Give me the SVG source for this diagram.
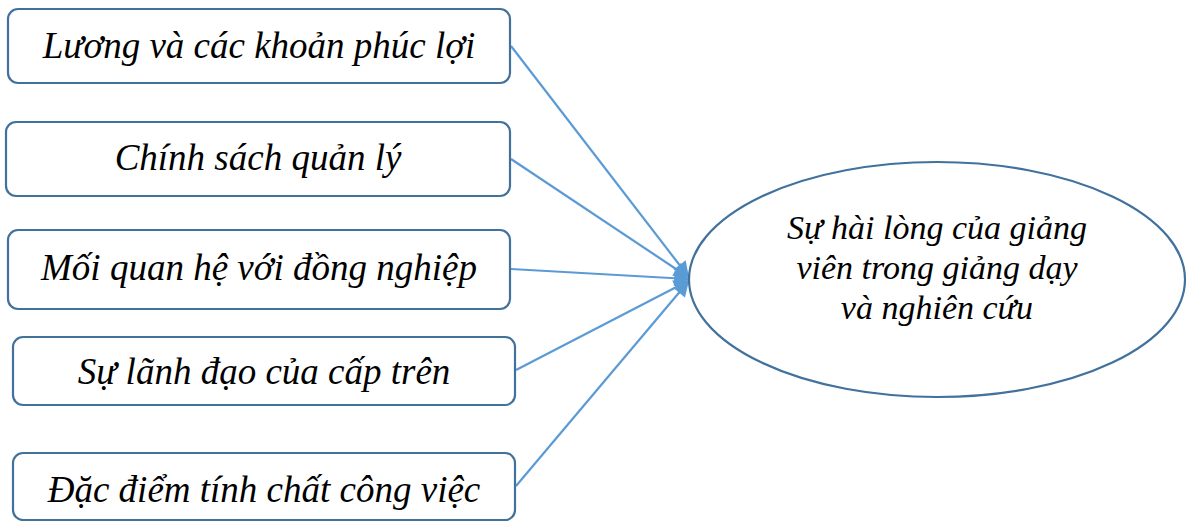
<svg xmlns="http://www.w3.org/2000/svg" width="1195" height="521" viewBox="0 0 1195 521">
  <defs>
    <marker id="arrow" viewBox="0 0 10 10" refX="9" refY="5" markerWidth="8" markerHeight="7" markerUnits="strokeWidth" orient="auto">
      <path d="M0,0 L10,5 L0,10 Z" fill="#5b9bd5"/>
    </marker>
  </defs>
  <style>
    .box { fill: #ffffff; stroke: #41719c; stroke-width: 2.2; }
    .oval { fill: #ffffff; stroke: #41719c; stroke-width: 2.2; }
    .lbl { font-family: 'Liberation Serif', 'DejaVu Serif', serif; font-style: italic; font-size: 37px; fill: #000000; text-anchor: middle; }
    .olbl { font-family: 'Liberation Serif', 'DejaVu Serif', serif; font-style: italic; font-size: 34px; fill: #000000; text-anchor: middle; }
    .link { stroke: #5b9bd5; stroke-width: 2.2; fill: none; marker-end: url(#arrow); }
  </style>
  <rect width="1195" height="521" fill="#ffffff"/>

  <g id="connectors">
    <line class="link" x1="511" y1="46" x2="688" y2="276"/>
    <line class="link" x1="511" y1="159" x2="688" y2="277"/>
    <line class="link" x1="511" y1="269" x2="688" y2="279"/>
    <line class="link" x1="516" y1="370" x2="688" y2="281"/>
    <line class="link" x1="516" y1="486" x2="688" y2="282"/>
  </g>

  <g id="node-luong">
    <rect class="box" x="8" y="9" width="502" height="74" rx="10"/>
    <text class="lbl" x="259" y="58">Lương và các khoản phúc lợi</text>
  </g>
  <g id="node-chinh-sach">
    <rect class="box" x="6" y="122" width="504" height="74" rx="10"/>
    <text class="lbl" x="258" y="170">Chính sách quản lý</text>
  </g>
  <g id="node-moi-quan-he">
    <rect class="box" x="8" y="230" width="502" height="79" rx="10"/>
    <text class="lbl" x="259" y="280">Mối quan hệ với đồng nghiệp</text>
  </g>
  <g id="node-lanh-dao">
    <rect class="box" x="13" y="337" width="502" height="68" rx="10"/>
    <text class="lbl" x="264" y="384">Sự lãnh đạo của cấp trên</text>
  </g>
  <g id="node-dac-diem">
    <rect class="box" x="13" y="453" width="502" height="67" rx="10"/>
    <text class="lbl" x="264" y="502">Đặc điểm tính chất công việc</text>
  </g>

  <g id="node-hai-long">
    <ellipse class="oval" cx="937" cy="279.5" rx="248" ry="117.5"/>
    <text class="olbl" x="937" y="239">Sự hài lòng của giảng</text>
    <text class="olbl" x="937" y="279">viên trong giảng dạy</text>
    <text class="olbl" x="937" y="319">và nghiên cứu</text>
  </g>
</svg>
